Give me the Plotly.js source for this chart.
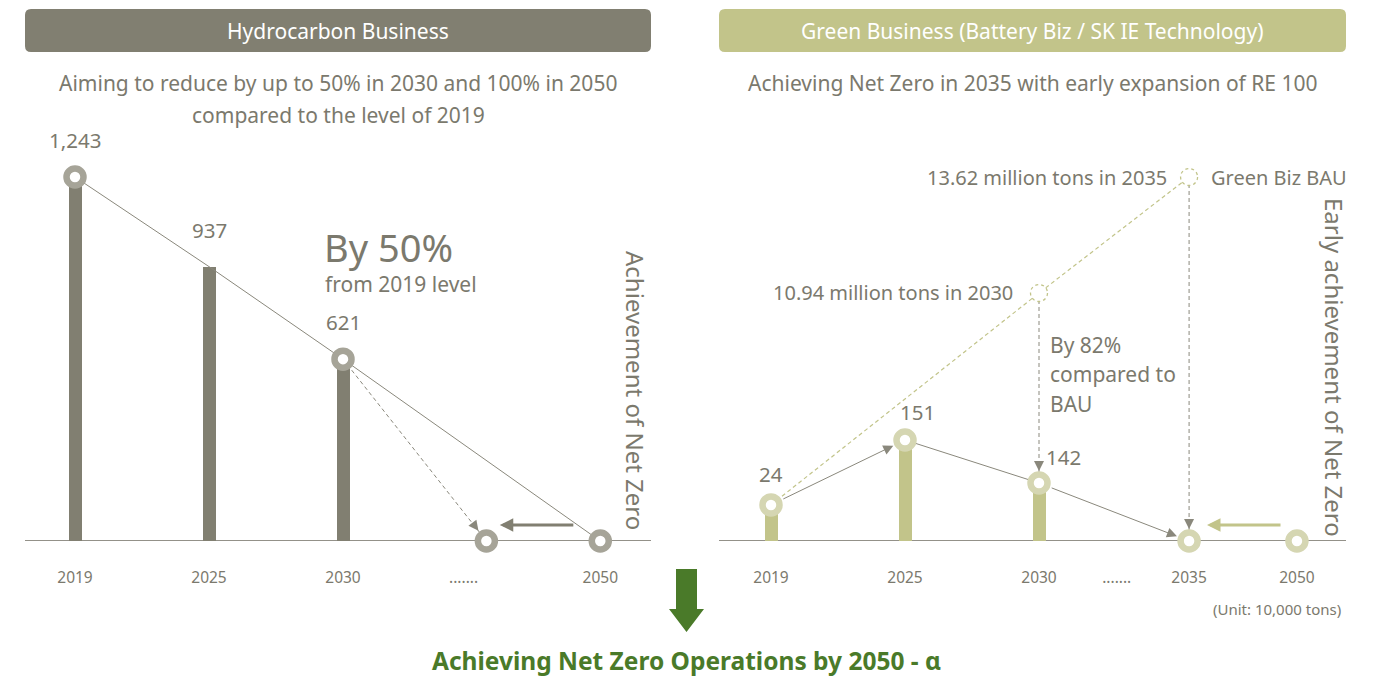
<!DOCTYPE html>
<html><head><meta charset="utf-8">
<script src="https://cdn.plot.ly/plotly-3.0.1.min.js"></script>
<style>html,body{margin:0;padding:0;background:#fff}#chart{width:1388px;height:680px}</style>
</head><body><div id="chart"></div>
<script>
// ---------- data (unit: 10,000 tons) ----------
const hcYears = ['2019', '2025', '2030', '2050'];
const hcEmissions = [1243, 937, 621, 0];
const hcLabels = ['1,243', '937', '621'];
const hcTickLabels = ['2019', '2025', '2030', '.......', '2050'];

const greenYears = ['2019', '2025', '2030', '2035', '2050'];
const greenEmissions = [24, 151, 142, 0, 0];          // labelled values
const greenDrawnLevels = [135, 378, 217, 0, 0];      // heights as drawn (schematic, not to scale)
const greenTickLabels = ['2019', '2025', '2030', '.......', '2035', '2050'];

const bauYears = ['2030', '2035'];
const bauValues = [1094, 1362];                      // 10.94 / 13.62 million tons
const bauDrawnLevels = [928, 1362];
const bauLabels = ['10.94 million tons in 2030', '13.62 million tons in 2035'];

// ---------- axis slot positions ----------
const hcSlot = {'2019': 0, '2025': 1, '2030': 2, '.......': 2.9, 'early': 3.07, '2050': 3.92};
const gbSlot = {'2019': 0, '2025': 1, '2030': 2, '.......': 2.58, '2035': 3.12, '2050': 3.925};

// ---------- style ----------
const W = 1388, H = 680;
const px = v => v / W, py = v => 1 - v / H;
const GRAY = '#7b796d', HC = '#817f71', HC_RING = '#a6a498', GB = '#c2c48a', GB_RING = '#d5d6b2';
const LINE = '#8a887c', GREEN = '#4a7a29';
const FONT = 'Noto Sans';
const DASH = '4px,3px';

const hcX = hcYears.map(y => hcSlot[y]);
const gbX = greenYears.map(y => gbSlot[y]);
const bauX = bauYears.map(y => gbSlot[y]);

const traces = [
  {type: 'bar', x: hcX.slice(0, 3), y: hcEmissions.slice(0, 3), width: 0.097,
   marker: {color: HC}, xaxis: 'x', yaxis: 'y', hoverinfo: 'skip'},
  {type: 'scatter', mode: 'lines', x: hcX, y: hcEmissions, line: {color: LINE, width: 1},
   xaxis: 'x', yaxis: 'y', hoverinfo: 'skip'},
  {type: 'scatter', mode: 'lines', x: [hcSlot['2030'], hcSlot['early']], y: [hcEmissions[2], 0],
   line: {color: LINE, width: 1, dash: DASH}, xaxis: 'x', yaxis: 'y', hoverinfo: 'skip'},
  {type: 'scatter', mode: 'markers', x: [hcX[0], hcX[2], hcSlot['early'], hcX[3]],
   y: [hcEmissions[0], hcEmissions[2], 0, 0], cliponaxis: false,
   marker: {size: 17, color: '#ffffff', line: {color: HC_RING, width: 6.5}},
   xaxis: 'x', yaxis: 'y', hoverinfo: 'skip'},

  {type: 'bar', x: gbX.slice(0, 3), y: greenDrawnLevels.slice(0, 3), width: 0.097,
   marker: {color: GB}, xaxis: 'x2', yaxis: 'y2', hoverinfo: 'skip'},
  {type: 'scatter', mode: 'lines', x: [gbX[0]].concat(bauX), y: [greenDrawnLevels[0]].concat(bauDrawnLevels),
   line: {color: GB, width: 1.2, dash: DASH}, xaxis: 'x2', yaxis: 'y2', hoverinfo: 'skip'},
  {type: 'scatter', mode: 'lines', x: [bauX[0], bauX[0]], y: [bauDrawnLevels[0], greenDrawnLevels[2]],
   line: {color: LINE, width: 1, dash: DASH}, xaxis: 'x2', yaxis: 'y2', hoverinfo: 'skip'},
  {type: 'scatter', mode: 'lines', x: [bauX[1], bauX[1]], y: [bauDrawnLevels[1], 0],
   line: {color: LINE, width: 1, dash: DASH}, xaxis: 'x2', yaxis: 'y2', hoverinfo: 'skip'},
  {type: 'scatter', mode: 'lines', x: [gbX[1], gbX[2]], y: [greenDrawnLevels[1], greenDrawnLevels[2]],
   line: {color: LINE, width: 1}, xaxis: 'x2', yaxis: 'y2', hoverinfo: 'skip'},
  {type: 'scatter', mode: 'markers', x: gbX, y: greenDrawnLevels, cliponaxis: false,
   marker: {size: 17, color: '#ffffff', line: {color: GB_RING, width: 6.5}},
   xaxis: 'x2', yaxis: 'y2', hoverinfo: 'skip'}
];

const kL = 364 / 1243;   // px per unit (left)
const kR = 364 / 1362;   // px per unit (right)

function txt(o) {
  return Object.assign({showarrow: false, xref: 'paper', yref: 'paper', xanchor: 'center', yanchor: 'middle'}, o,
    {font: Object.assign({family: FONT, color: GRAY, size: 21}, o.font || {})});
}

const annotations = [
  txt({x: px(338), y: py(31), text: 'Hydrocarbon Business', font: {color: '#ffffff', size: 21}}),
  txt({x: px(1032.5), y: py(31), text: 'Green Business (Battery Biz / SK IE Technology)', font: {color: '#ffffff', size: 21}}),
  txt({x: px(338), y: py(83), text: 'Aiming to reduce by up to 50% in 2030 and 100% in 2050'}),
  txt({x: px(338), y: py(115), text: 'compared to the level of 2019'}),
  txt({x: px(1032.5), y: py(83), text: 'Achieving Net Zero in 2035 with early expansion of RE 100'}),
  txt({x: px(322), y: py(247), xanchor: 'left', text: 'By 50%', font: {size: 38}}),
  txt({x: px(323), y: py(284), xanchor: 'left', text: 'from 2019 level'}),
  txt({x: px(636), y: py(390), textangle: 90, text: 'Achievement of Net Zero', font: {size: 24}}),
  txt({x: px(1335), y: py(367), textangle: 90, text: 'Early achievement of Net Zero', font: {size: 24}}),
  txt({x: px(1048), y: py(345), xanchor: 'left', text: 'By 82%'}),
  txt({x: px(1048), y: py(374), xanchor: 'left', text: 'compared to'}),
  txt({x: px(1048), y: py(404), xanchor: 'left', text: 'BAU'}),
  txt({x: px(1343), y: py(609), xanchor: 'right', text: '(Unit: 10,000 tons)', font: {size: 15}}),
  txt({x: px(686), y: py(660), text: 'Achieving Net Zero Operations by 2050 - α',
       font: {size: 24.5, color: GREEN, weight: 'bold'}})
];

hcLabels.forEach((t, i) => annotations.push(txt({xref: 'x', yref: 'y', x: hcX[i], y: hcEmissions[i],
  text: t, yshift: 37, font: {size: 20.5}})));
const gShiftX = [0, 12, 24], gShiftY = [31, 28, 26];
[0, 1, 2].forEach(i => annotations.push(txt({xref: 'x2', yref: 'y2', x: gbX[i], y: greenDrawnLevels[i],
  text: String(greenEmissions[i]), xshift: gShiftX[i], yshift: gShiftY[i], font: {size: 20.5}})));
annotations.push(txt({xref: 'x2', yref: 'y2', x: bauX[0], y: bauDrawnLevels[0], xanchor: 'right', xshift: -24,
  text: bauLabels[0], font: {size: 20}}));
annotations.push(txt({xref: 'x2', yref: 'y2', x: bauX[1], y: bauDrawnLevels[1], xanchor: 'right', xshift: -20,
  text: bauLabels[1], font: {size: 20}}));
annotations.push(txt({xref: 'x2', yref: 'y2', x: bauX[1], y: bauDrawnLevels[1], xanchor: 'left', xshift: 20,
  text: 'Green Biz BAU', font: {size: 20}}));

function arrow(xa, ya, x, y, ax, ay, o) {
  return Object.assign({xref: xa, yref: ya, axref: xa, ayref: ya, x: x, y: y, ax: ax, ay: ay, text: '',
    showarrow: true, arrowhead: 2, arrowsize: 2, arrowwidth: 1, arrowcolor: LINE}, o || {});
}
annotations.push(arrow('x', 'y', hcSlot['early'], 0, 2.972, 22 / kL * 0.78, {standoff: 13}));
annotations.push(arrow('x', 'y', 3.17, 16 / kL, 3.73, 16 / kL, {arrowwidth: 3, arrowsize: 0.9, arrowcolor: HC}));
annotations.push(arrow('x2', 'y2', gbX[1], greenDrawnLevels[1], gbX[0], greenDrawnLevels[0],
  {standoff: 13, startstandoff: 12}));
annotations.push(arrow('x2', 'y2', gbX[3], 0, gbX[2], greenDrawnLevels[2], {standoff: 13, startstandoff: 12}));
annotations.push(arrow('x2', 'y2', bauX[0], greenDrawnLevels[2], bauX[0], greenDrawnLevels[2] + 23 / kR, {standoff: 12}));
annotations.push(arrow('x2', 'y2', bauX[1], 0, bauX[1], 23 / kR, {standoff: 12}));
annotations.push(arrow('x2', 'y2', (1207 - 771) / 134, 16 / kR, (1282 - 771) / 134, 16 / kR,
  {arrowwidth: 3, arrowsize: 0.9, arrowcolor: GB}));

function rr(x0, y0, x1, y1, r) {
  const P = (x, y) => px(x) + ',' + py(y);
  return `M${P(x0 + r, y0)} L${P(x1 - r, y0)} Q${P(x1, y0)} ${P(x1, y0 + r)} L${P(x1, y1 - r)} Q${P(x1, y1)} ${P(x1 - r, y1)} L${P(x0 + r, y1)} Q${P(x0, y1)} ${P(x0, y1 - r)} L${P(x0, y0 + r)} Q${P(x0, y0)} ${P(x0 + r, y0)} Z`;
}
function poly(pts) {
  return 'M' + pts.map(p => px(p[0]) + ',' + py(p[1])).join(' L') + ' Z';
}

const shapes = [
  {type: 'path', xref: 'paper', yref: 'paper', path: rr(25, 9, 651, 52, 6), fillcolor: HC, line: {width: 0}, layer: 'below'},
  {type: 'path', xref: 'paper', yref: 'paper', path: rr(719, 9, 1346, 52, 6), fillcolor: GB, line: {width: 0}, layer: 'below'},
  {type: 'line', xref: 'paper', yref: 'y', x0: px(25), x1: px(651), y0: 0, y1: 0, line: {color: '#6f6d62', width: 1.5}, layer: 'below'},
  {type: 'line', xref: 'paper', yref: 'y2', x0: px(719), x1: px(1346), y0: 0, y1: 0, line: {color: '#6f6d62', width: 1.5}, layer: 'below'},
  {type: 'path', xref: 'paper', yref: 'paper', fillcolor: GREEN, line: {width: 0},
   path: poly([[676, 569], [697, 569], [697, 609], [704, 609], [686.5, 632], [669, 609], [676, 609]])}
];
bauX.forEach((x, i) => shapes.push({type: 'circle', xref: 'x2', yref: 'y2', xsizemode: 'pixel', ysizemode: 'pixel',
  xanchor: x, yanchor: bauDrawnLevels[i], x0: -8.5, x1: 8.5, y0: -8.5, y1: 8.5,
  fillcolor: '#ffffff', line: {color: GB, width: 1.3, dash: 'dot'}}));

const tickStyle = {showgrid: false, zeroline: false, showline: false, ticks: 'outside', ticklen: 22,
  tickcolor: 'rgba(0,0,0,0)', tickfont: {family: FONT, size: 15.5, color: GRAY}, fixedrange: true};

const layout = {
  width: W, height: H, margin: {l: 0, r: 0, t: 0, b: 0},
  paper_bgcolor: '#ffffff', plot_bgcolor: 'rgba(0,0,0,0)', showlegend: false,
  xaxis: Object.assign({domain: [px(25), px(651)], range: [-50 / 134, 576 / 134], anchor: 'y',
    tickmode: 'array', tickvals: hcTickLabels.map(t => hcSlot[t]), ticktext: hcTickLabels}, tickStyle),
  yaxis: {domain: [py(541), py(130)], range: [0, 411 / kL], visible: false, fixedrange: true},
  xaxis2: Object.assign({domain: [px(719), px(1346)], range: [-52 / 134, 575 / 134], anchor: 'y2',
    tickmode: 'array', tickvals: greenTickLabels.map(t => gbSlot[t]), ticktext: greenTickLabels}, tickStyle),
  yaxis2: {domain: [py(541), py(130)], range: [0, 411 / kR], visible: false, fixedrange: true, anchor: 'x2'},
  annotations: annotations, shapes: shapes, bargap: 0
};

Plotly.newPlot('chart', traces, layout, {displayModeBar: false, staticPlot: true});
</script></body></html>
